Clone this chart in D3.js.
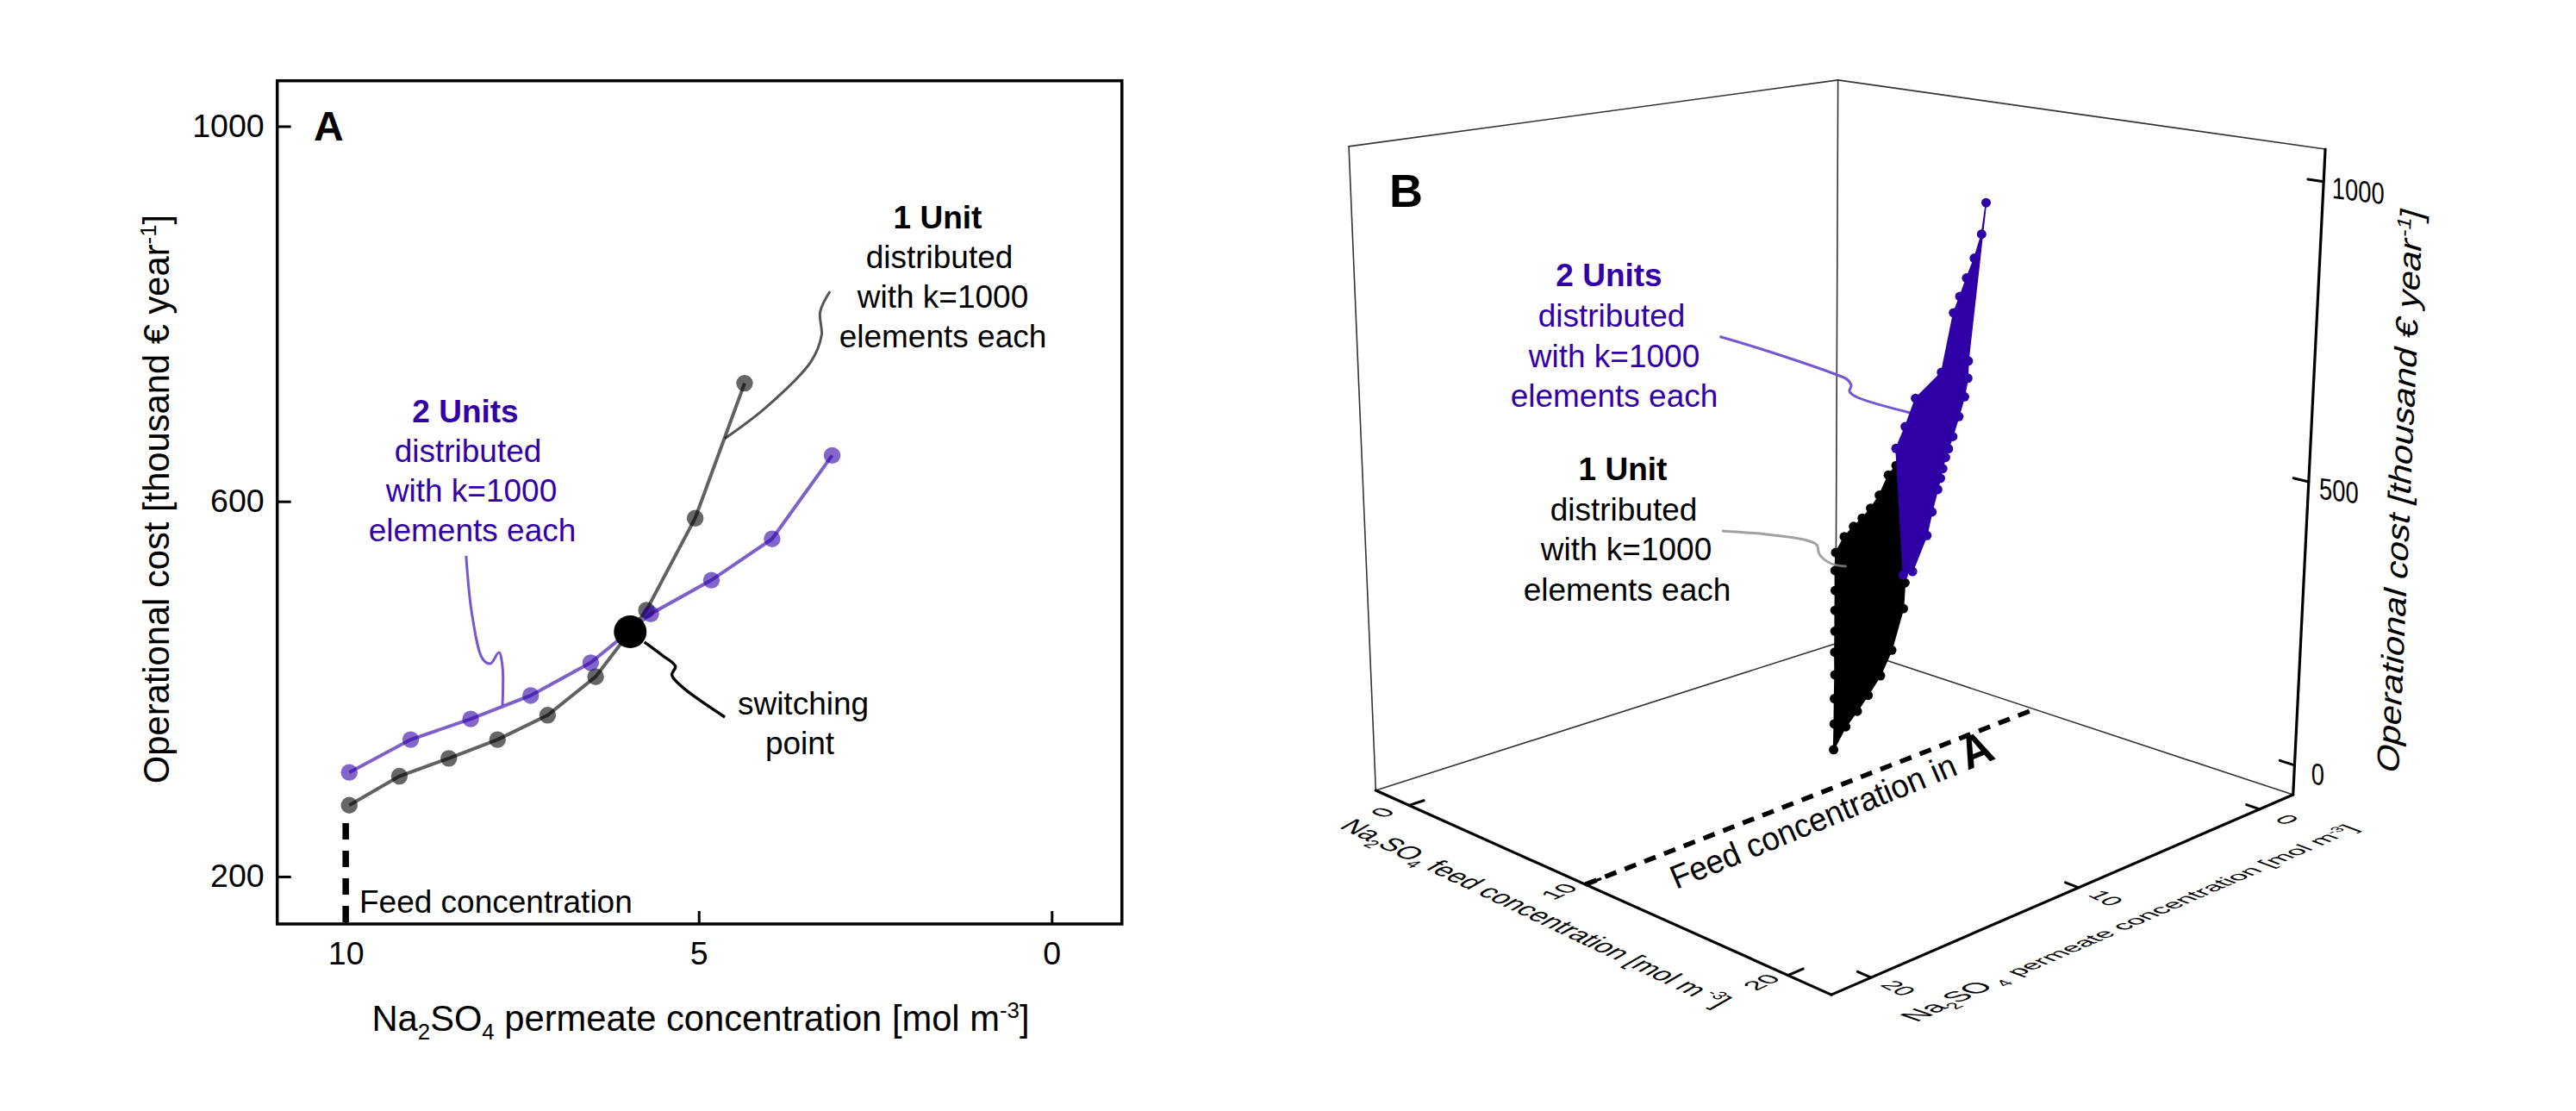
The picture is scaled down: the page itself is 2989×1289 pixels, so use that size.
<!DOCTYPE html><html><head><meta charset="utf-8"><style>html,body{margin:0;background:#fff}svg text{font-family:"Liberation Sans",Arial,sans-serif;fill:#000}</style></head><body>
<script src="https://d3js.org/d3.v7.min.js"></script>
<svg id="chart" width="2989" height="1289"></svg>
<script>
// ---------- Panel A data ----------
const xTicksA=[10,5,0], yTicksA=[200,600,1000];
const oneUnitPermeate=[9.95,9.24,8.54,7.85,7.14,6.46,5.74,5.05,4.35];
const oneUnitCost=[276,307,326,346,372,413,484,582,726];
const twoUnitPermeate=[9.95,9.08,8.23,7.38,6.53,5.68,4.82,3.96,3.11];
const twoUnitCost=[311,346,368,393,428,480,516,560,649];
const switchPermeate=[5.97], switchCost=[461];
const feedLinePermeate=[10,10], feedLineCost=[257,149.4];
const leader2UnitsX=[8.295,8.21,8.06,7.95,7.83,7.78,7.78], leader2UnitsY=[542,479,432,427,439,424,383];
const leader1UnitX=[3.14,3.28,3.26,3.41,4.05,4.63], leader1UnitY=[824,802,777,749,700,667];
const leaderSwitchX=[5.77,5.52,5.33,5.38,5.24,4.63], leaderSwitchY=[450,436,424,415,402.5,370];
// ---------- Panel B data: outline of each surface (feed, permeate, cost) ----------
const oneUnitSurfFeed=[20.17,18.5,16.85,15.19,13.52,11.87,10.2,8.54,6.89,5.22,5.22,5.22,5.22,5.22,5.22,5.22,5.22,20.17,20.17,20.17,20.17,20.17,20.17,20.17];
const oneUnitSurfPerm=[19.93,18.27,16.64,14.99,13.36,11.73,10.09,8.45,6.84,5.17,4.71,4.21,3.74,3.28,2.81,2.32,1.9,16.79,16.85,17.36,17.86,18.41,18.89,19.4];
const oneUnitSurfCost=[279,278,279,279,279,278,278,278,280,279,304,318,329,343,363,396,410,501,462,403,369,345,326,308];
const twoUnitSurfFeed=[20.17,5.22,5.22,5.22,6.89,8.54,11.87,13.52,15.19,16.85,20.17,20.17,20.17,20.17,20.17,20.17,20.17,20.17,20.17,20.17,20.17,20.17,20.17,20.17];
const twoUnitSurfPerm=[16.87,1.91,1.41,0.85,1.17,2.31,5.55,6.99,8.42,9.88,13.31,14.01,14.02,14.16,14.41,14.68,14.87,15,15.12,15.22,15.34,15.59,15.81,16.45];
const twoUnitSurfCost=[514,442,478,526,590,718,793,845,898,956,1045,814,788,761,733,705,688,676,660,646,630,598,564,515];
const feedTicksB=[0,10,20], permTicksB=[0,10,20], costTicksB=[0,500,1000];
const feedDashFeed=[10,9.24];

const PURPLE='#2e00a6';
const svg=d3.select('#chart');
const zip=(a,b)=>a.map((v,i)=>[v,b[i]]);

// ---------- helpers for rich text ----------
function addParts(text,parts,fs){
  let shift=0;
  parts.forEach(p=>{
    const o=typeof p==='string'?{t:p}:p;
    const target=o.sub?fs*0.24:o.sup?-fs*0.36:0;
    const ts=text.append('tspan').text(o.t).attr('dy',target-shift).attr('font-size',(o.sub||o.sup)?fs*0.62:(o.size||fs));
    if(o.bold)ts.attr('font-weight','bold');
    shift=target;
  });
}
function skewText(parts,fs,start,end,cd){
  const t=svg.append('text').attr('font-size',fs);
  addParts(t,parts,fs);
  const len=t.node().getComputedTextLength();
  const a=(end[0]-start[0])/len,b=(end[1]-start[1])/len;
  t.attr('transform',`matrix(${a} ${b} ${cd[0]} ${cd[1]} ${start[0]} ${start[1]})`);
  return t;
}
function block(lines,centers,baselines,fs,color,boldFirst){
  lines.forEach((l,i)=>svg.append('text').attr('x',centers[i]).attr('y',baselines[i]).attr('text-anchor','middle')
    .attr('font-size',fs).attr('font-weight',boldFirst&&i===0?'bold':'normal').style('fill',color).text(l));
}

// ---------- Panel A ----------
const xA=d3.scaleLinear().domain([10.97,-0.995]).range([321.7,1301.8]);
const yA=d3.scaleLinear().domain([149.4,1048.5]).range([1072,93.7]);
const gA=svg.append('g');
const lineA=d3.line().x(d=>xA(d[0])).y(d=>yA(d[1]));
const leaderA=d3.line().x(d=>xA(d[0])).y(d=>yA(d[1])).curve(d3.curveCatmullRom.alpha(0.5));
gA.append('path').attr('d',leaderA(zip(leader2UnitsX,leader2UnitsY))).attr('fill','none').attr('stroke','#7558cf').attr('stroke-width',3);
gA.append('path').attr('d',leaderA(zip(leader1UnitX,leader1UnitY))).attr('fill','none').attr('stroke','#555').attr('stroke-width',3);
gA.append('path').attr('d',leaderA(zip(leaderSwitchX,leaderSwitchY))).attr('fill','none').attr('stroke','#000').attr('stroke-width',3.4);
gA.append('path').attr('d',lineA(zip(feedLinePermeate,feedLineCost))).attr('fill','none').attr('stroke','#000').attr('stroke-width',7.5).attr('stroke-dasharray','19 13');
[[oneUnitPermeate,oneUnitCost,'#000'],[twoUnitPermeate,twoUnitCost,PURPLE]].forEach(([xs,ys,c])=>{
  const pts=zip(xs,ys);
  gA.append('path').attr('d',lineA(pts)).attr('fill','none').attr('stroke',c).attr('stroke-width',4).attr('stroke-opacity',0.62);
  gA.selectAll(null).data(pts).join('circle').attr('cx',d=>xA(d[0])).attr('cy',d=>yA(d[1])).attr('r',9.7).attr('fill',c).attr('fill-opacity',0.6);
});
gA.selectAll(null).data(zip(switchPermeate,switchCost)).join('circle').attr('cx',d=>xA(d[0])).attr('cy',d=>yA(d[1])).attr('r',19).attr('fill','#000');
gA.append('rect').attr('x',321.7).attr('y',93.7).attr('width',980.1).attr('height',978.3).attr('fill','none').attr('stroke','#000').attr('stroke-width',3.5);
const axB=d3.axisBottom(xA).tickValues(xTicksA).tickFormat(d3.format('d')).tickSizeInner(-15).tickSizeOuter(0).tickPadding(20);
const axL=d3.axisLeft(yA).tickValues(yTicksA).tickFormat(d3.format('d')).tickSizeInner(-16).tickSizeOuter(0).tickPadding(15);
[[axB,`translate(0,1072)`],[axL,`translate(321.7,0)`]].forEach(([ax,tr])=>{
  const g=gA.append('g').attr('transform',tr).call(ax);
  g.select('.domain').remove();
  g.selectAll('line').attr('stroke','#000').attr('stroke-width',3);
  g.selectAll('text').attr('font-size',37.5).attr('font-family','"Liberation Sans"').style('fill','#000');
});
{const t=svg.append('text').attr('font-size',41.7).attr('text-anchor','middle').attr('x',813).attr('y',1196);
 addParts(t,['Na',{t:'2',sub:1},'SO',{t:'4',sub:1},' permeate concentration [mol m',{t:'-3',sup:1},']'],41.7);}
{const t=svg.append('text').attr('font-size',41.7).attr('text-anchor','middle').attr('transform','translate(196,579) rotate(-90)');
 addParts(t,['Operational cost [thousand € year',{t:'-1',sup:1},']'],41.7);}
svg.append('text').attr('x',364).attr('y',163).attr('font-size',48).attr('font-weight','bold').text('A');
const unitLines1=['1 Unit','distributed','with k=1000','elements each'], unitLines2=['2 Units','distributed','with k=1000','elements each'];
block(unitLines1,[1088,1090,1094,1094],[265,311,357,403],37,'#000',true);
block(unitLines2,[540,543,547,548],[490,536,582,628],37,'#3300a8',true);
block(['switching','point'],[932,928],[829,875],37,'#000',false);
svg.append('text').attr('x',417).attr('y',1059).attr('font-size',37).text('Feed concentration');

// ---------- Panel B: perspective camera on a unit cube ----------
const fS=d3.scaleLinear().domain([0,20]).range([0.085,0.918]);
const pS=d3.scaleLinear().domain([0,20]).range([0.084,0.926]);
const cS=d3.scaleLinear().domain([0,1000]).range([0.0484,0.9524]);
const cube=(u,v,w)=>{const d=1-.13272*u-.13045*v-.05259*w;
  return [(2130+177.6*u-741.9*v-109.5*w)/d,(746.7+52.95*u+50.75*v-658.7*w)/d];};
const project=(f,p,c)=>cube(fS(f),pS(p),cS(c));
const seg=(a,b,w,col)=>svg.append('line').attr('x1',a[0]).attr('y1',a[1]).attr('x2',b[0]).attr('y2',b[1]).attr('stroke',col).attr('stroke-width',w).attr('stroke-linecap','round');
[[[0,1,0],[0,0,0]],[[0,0,0],[1,0,0]],[[0,0,0],[0,0,1]],[[0,1,0],[0,1,1]],[[0,1,1],[0,0,1]],[[0,0,1],[1,0,1]]]
  .forEach(([a,b])=>seg(cube(...a),cube(...b),1.6,'#333'));
[[[0,1,0],[1,1,0]],[[1,1,0],[1,0,0]],[[1,0,0],[1,0,1]]].forEach(([a,b])=>seg(cube(...a),cube(...b),3.2,'#000'));
feedTicksB.forEach(f=>seg(cube(fS(f),1,0),cube(fS(f),0.972,0),3,'#000'));
permTicksB.forEach(p=>seg(cube(1,pS(p),0),cube(0.975,pS(p),0),3,'#000'));
costTicksB.forEach(c=>seg(cube(1,0,cS(c)),cube(0.972,0,cS(c)),3,'#000'));
{const a=cube(fS(feedDashFeed[0]),1,0),b=cube(fS(feedDashFeed[1]),0,0);
 seg(a,b,5.5,'#000').attr('stroke-linecap','butt').attr('stroke-dasharray','14 10.5');}
const leaderB=d3.line().curve(d3.curveCatmullRom.alpha(0.5));
svg.append('path').attr('d',leaderB([[1995.5,390.5],[2050,407],[2131.7,435],[2143,440],[2148,447],[2146,454],[2153,460],[2216.7,479]])).attr('fill','none').attr('stroke','#7558cf').attr('stroke-width',3);
const closed=d3.line().curve(d3.curveLinearClosed);
[[oneUnitSurfFeed,oneUnitSurfPerm,oneUnitSurfCost,'#000'],[twoUnitSurfFeed,twoUnitSurfPerm,twoUnitSurfCost,PURPLE]].forEach(([F,P,C,col])=>{
  const pts=F.map((f,i)=>project(f,P[i],C[i]));
  svg.append('path').attr('d',closed(pts)).attr('fill',col).attr('stroke',col).attr('stroke-width',1.5);
  svg.selectAll(null).data(pts).join('circle').attr('cx',d=>d[0]).attr('cy',d=>d[1]).attr('r',5.5).attr('fill',col);
});
svg.append('path').attr('d',leaderB([[1998,616],[2050,620],[2093,626],[2108,632],[2111,643],[2125,654],[2142.7,657]])).attr('fill','none').attr('stroke','#8a8a8a').attr('stroke-opacity',0.8).attr('stroke-width',3);
feedTicksB.forEach(f=>{const b=cube(fS(f),1,0);
  svg.append('text').attr('font-size',24).attr('text-anchor','middle').attr('dy','0.36em').text(f)
   .attr('transform',`matrix(1.13 -0.53 1.04 0.4 ${b[0]-31} ${b[1]+8})`);});
permTicksB.forEach(p=>{const b=cube(1,pS(p),0);
  svg.append('text').attr('font-size',24).attr('text-anchor','middle').attr('dy','0.36em').text(p)
   .attr('transform',`matrix(1.0 0.5 -1.05 0.42 ${b[0]+32} ${b[1]+12})`);});
costTicksB.forEach(c=>{const b=cube(1,0,cS(c));
  svg.append('text').attr('font-size',36).attr('text-anchor','middle').attr('dy','0.36em').text(c)
   .attr('transform',`matrix(0.76 0.09 0 0.97 ${b[0]+ (c===0?27:c===500?35:40)} ${b[1]+10})`);});
skewText(['Na',{t:'2',sub:1},'SO',{t:'4',sub:1},'  feed concentration [mol m',{t:' -3',sup:1},']'],30,[1553,960],[1992,1170],[-0.92,0.53]);
skewText(['Na',{t:'2',sub:1},'SO',{t:' 4',sub:1}],30,[2224,1186],[2330,1138],[1.05,0.36]);
skewText(['permeate concentration [mol m',{t:'-3',sup:1},']'],30,[2342,1133],[2738,962],[0.8,0.3]);
skewText(['Operational cost [thousand € year',{t:'-1',sup:1},']'],36,[2783,899],[2811,246],[1.0,0.3]);
skewText(['Feed concentration in ',{t:'A',bold:1,size:50}],36,[1945,1032],[2317,880],[0.42,0.98]);
svg.append('text').attr('x',1612).attr('y',240).attr('font-size',54).attr('font-weight','bold').text('B');
block(unitLines2,[1867,1870,1873,1873],[332,379,426,472],37,'#3300a8',true);
block(unitLines1,[1883,1884,1887,1888],[557,604,650,697],37,'#000',true);
</script></body></html>
